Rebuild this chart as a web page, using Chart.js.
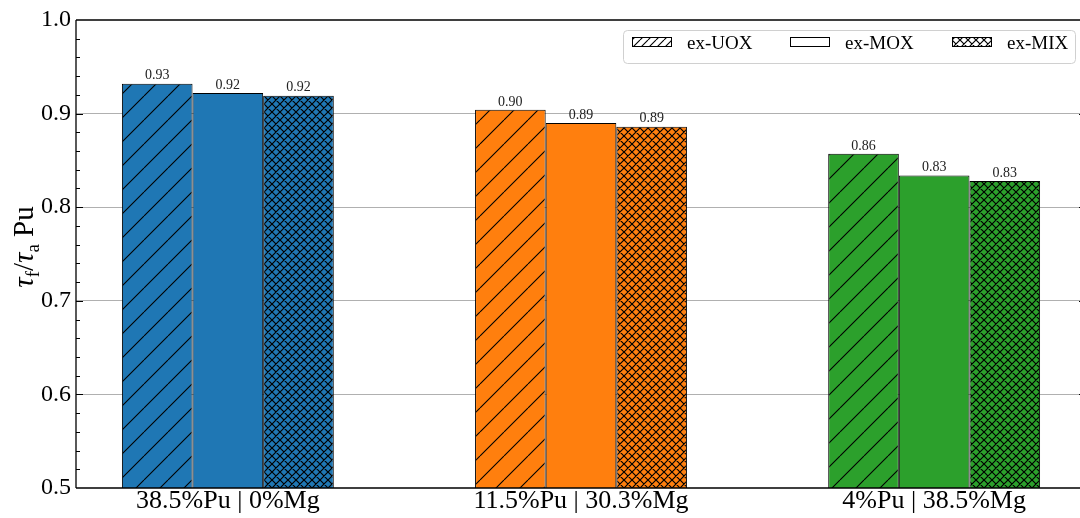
<!DOCTYPE html>
<html>
<head>
<meta charset="utf-8">
<script src="https://cdn.jsdelivr.net/npm/chart.js@4.4.1/dist/chart.umd.min.js"></script>
<style>
  html, body { margin: 0; padding: 0; background: #fff; overflow: hidden; }
  #wrap { position: relative; width: 1090px; height: 518px; }
</style>
</head>
<body>
<div id="wrap"><canvas id="chart"></canvas></div>
<script>
// ---------------------------------------------------------------
// data
// ---------------------------------------------------------------
var categories = ["38.5%Pu | 0%Mg", "11.5%Pu | 30.3%Mg", "4%Pu | 38.5%Mg"];
var seriesNames = ["ex-UOX", "ex-MOX", "ex-MIX"];
var exUOX = [0.932, 0.904, 0.857];
var exMOX = [0.922, 0.890, 0.834];
var exMIX = [0.919, 0.886, 0.828];
var yTicks = [0.5, 0.6, 0.7, 0.8, 0.9, 1.0];

var groupColors = ["#1f77b4", "#ff7f0e", "#2ca02c"];
var serif = "'Liberation Serif', 'DejaVu Serif', serif";

// hatch patterns, like matplotlib '/' and 'xxx'
function makeHatch(color, kind, size) {
    var c = document.createElement("canvas");
    var s = size || (kind === "/" ? 24 : 8);
    c.width = s; c.height = s;
    var g = c.getContext("2d");
    g.fillStyle = color;
    g.fillRect(0, 0, s, s);
    if (kind) {
        g.strokeStyle = "#000";
        g.lineWidth = kind === "/" ? 1.1 : 1.2;
        g.beginPath();
        for (var k = -1; k <= 1; k++) {
            g.moveTo(k * s, s); g.lineTo(k * s + s, 0);
            if (kind === "x") { g.moveTo(k * s, 0); g.lineTo(k * s + s, s); }
        }
        g.stroke();
    }
    return document.createElement("canvas").getContext("2d").createPattern(c, "repeat");
}
var kinds = ["/", null, "x"];

function pointsOf(arr) {
    return arr.map(function (v, i) { return { x: i, y: v }; });
}
var seriesValues = [exUOX, exMOX, exMIX];
var datasets = seriesValues.map(function (vals, si) {
    return {
        label: seriesNames[si],
        data: pointsOf(vals),
        backgroundColor: groupColors.map(function (c) { return makeHatch(c, kinds[si]); }),
        borderColor: "#000",
        borderWidth: 1,
        borderSkipped: false,
        categoryPercentage: 0.6,
        barPercentage: 1.0
    };
});

// frame, inward ticks, value labels, y title, legend
var decor = {
    id: "decor",
    afterDatasetsDraw: function (chart) {
        var ctx = chart.ctx, a = chart.chartArea, y = chart.scales.y;
        ctx.save();
        // value labels
        ctx.fillStyle = "#222";
        ctx.font = "14px " + serif;
        ctx.textAlign = "center";
        ctx.textBaseline = "bottom";
        chart.data.datasets.forEach(function (ds, di) {
            chart.getDatasetMeta(di).data.forEach(function (bar, i) {
                ctx.fillText(ds.data[i].y.toFixed(2), bar.x, bar.y - 1);
            });
        });
        // frame
        ctx.strokeStyle = "#000";
        ctx.lineWidth = 1.3;
        ctx.beginPath();
        ctx.moveTo(a.left, a.top); ctx.lineTo(a.right, a.top);
        ctx.moveTo(a.left, a.bottom); ctx.lineTo(a.right, a.bottom);
        ctx.moveTo(a.left, a.top); ctx.lineTo(a.left, a.bottom);
        ctx.moveTo(a.right, a.top); ctx.lineTo(a.right, a.bottom);
        ctx.stroke();
        // inward ticks
        ctx.lineWidth = 1;
        ctx.beginPath();
        for (var k = 1; k < 25; k++) {
            var v = 0.5 + k * 0.02;
            var py = Math.round(y.getPixelForValue(v)) + 0.5;
            var len = (k % 5 === 0) ? 7 : 4;
            ctx.moveTo(a.left, py); ctx.lineTo(a.left + len, py);
            ctx.moveTo(a.right, py); ctx.lineTo(a.right - len, py);
        }
        ctx.stroke();

        // y title: tau_f / tau_a Pu
        var parts = [
            { t: "\u03c4", f: "italic 29px " + serif, dy: 0 },
            { t: "f", f: "19px " + serif, dy: 6 },
            { t: "/", f: "29px " + serif, dy: 0 },
            { t: "\u03c4", f: "italic 29px " + serif, dy: 0 },
            { t: "a", f: "19px " + serif, dy: 6 },
            { t: " Pu", f: "29px " + serif, dy: 0 }
        ];
        var w = 0;
        parts.forEach(function (p) { ctx.font = p.f; p.w = ctx.measureText(p.t).width; w += p.w; });
        ctx.translate(25, 247);
        ctx.rotate(-Math.PI / 2);
        ctx.fillStyle = "#000";
        ctx.textAlign = "left";
        ctx.textBaseline = "alphabetic";
        var x = -w / 2;
        parts.forEach(function (p) { ctx.font = p.f; ctx.fillText(p.t, x, 8 + p.dy); x += p.w; });
        ctx.restore();

        // legend
        ctx.save();
        var lx = 623, ly = 30, lw = 452, lh = 33;
        ctx.fillStyle = "rgba(255,255,255,0.85)";
        ctx.strokeStyle = "#d0d0d0";
        ctx.lineWidth = 1;
        ctx.beginPath();
        ctx.roundRect(lx + 0.5, ly + 0.5, lw, lh, 4);
        ctx.fill(); ctx.stroke();
        var patchX = [632, 790, 952];
        ctx.font = "19px " + serif;
        ctx.textBaseline = "middle";
        seriesNames.forEach(function (name, i) {
            ctx.fillStyle = makeHatch("#fff", kinds[i], 8);
            ctx.fillRect(patchX[i], 37, 40, 10);
            ctx.strokeStyle = "#000";
            ctx.strokeRect(patchX[i] + 0.5, 37.5, 39, 9);
            ctx.fillStyle = "#000";
            ctx.fillText(name, patchX[i] + 55, 44);
        });
        ctx.restore();
    }
};

new Chart(document.getElementById("chart"), {
    type: "bar",
    data: { datasets: datasets },
    options: {
        responsive: true,
        maintainAspectRatio: false,
        animation: false,
        layout: { padding: { top: 20, right: 4, left: 0, bottom: 0 } },
        plugins: {
            legend: { display: false },
            tooltip: { enabled: false }
        },
        scales: {
            x: {
                type: "linear",
                min: -0.43,
                max: 2.43,
                offset: false,
                grid: { display: false, drawTicks: false },
                border: { display: false },
                afterBuildTicks: function (s) {
                    s.ticks = categories.map(function (c, i) { return { value: i }; });
                },
                afterFit: function (s) { s.height = 30; },
                ticks: {
                    autoSkip: false,
                    maxRotation: 0,
                    padding: 0,
                    color: "#000",
                    font: { family: serif, size: 26, lineHeight: 1.0 },
                    callback: function (v) { return categories[v]; }
                }
            },
            y: {
                min: 0.5,
                max: 1.0,
                afterBuildTicks: function (s) {
                    s.ticks = yTicks.map(function (v) { return { value: v }; });
                },
                afterFit: function (s) { s.width = 76; },
                border: { display: false },
                grid: {
                    drawTicks: false,
                    lineWidth: 1,
                    color: function (c) {
                        var v = c.tick ? c.tick.value : 0;
                        return (Math.abs(v - 0.5) < 1e-6 || Math.abs(v - 1.0) < 1e-6) ? "rgba(0,0,0,0)" : "#b0b0b0";
                    }
                },
                ticks: {
                    padding: 5,
                    color: "#000",
                    font: { family: serif, size: 24 },
                    callback: function (v) { return v.toFixed(1); }
                }
            }
        }
    },
    plugins: [decor]
});
</script>
</body>
</html>
